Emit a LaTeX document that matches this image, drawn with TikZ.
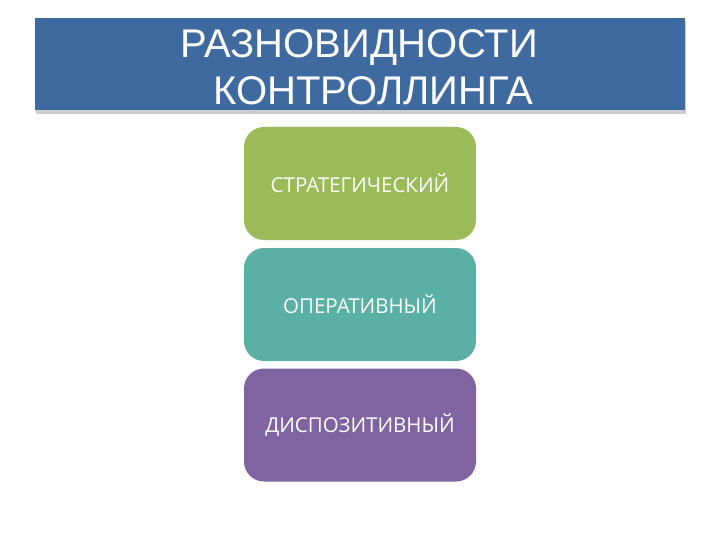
\documentclass[tikz,border=0pt]{standalone}
\usepackage{fontspec}
\setmainfont{Liberation Sans}
\newfontfamily\boxfont{Open Sans}
\usetikzlibrary{positioning}
\definecolor{title-blue}{RGB}{62, 106, 160}
\definecolor{kind-green}{RGB}{155, 187, 89}
\definecolor{kind-teal}{RGB}{90, 176, 164}
\definecolor{kind-purple}{RGB}{128, 100, 162}

\begin{document}
\begin{tikzpicture}[x=1pt, y=-1pt,
    kind/.style={rounded corners=20pt, minimum width=232pt, minimum height=113pt,
        inner sep=0pt, text=white, font=\boxfont\fontsize{20.5}{24}\selectfont}]
\useasboundingbox (0,0) rectangle (720,540);
\fill[black!20] (36,21) rectangle (686,114);
\fill[title-blue] (35,18) rectangle (685,110);
\node[anchor=north west, align=left, inner sep=0pt, text=white,
    font=\fontsize{40}{47}\selectfont] (title) at (180,29)
    {РАЗНОВИДНОСТИ\\\hspace*{33pt}КОНТРОЛЛИНГА};
\node[kind, fill=kind-green] (strat) at (360,183.5) {СТРАТЕГИЧЕСКИЙ};
\node[kind, fill=kind-teal] (oper) at (360,304.5) {ОПЕРАТИВНЫЙ};
\node[kind, fill=kind-purple] (disp) at (360,425) {ДИСПОЗИТИВНЫЙ};
\end{tikzpicture}
\end{document}
